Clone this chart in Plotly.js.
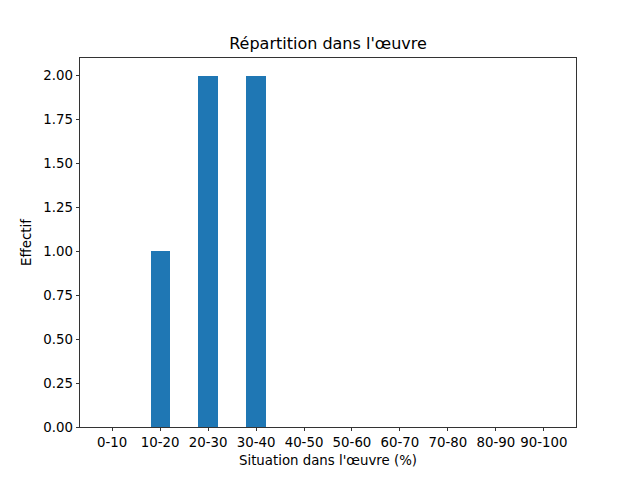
<!DOCTYPE html>
<html>
<head>
<meta charset="utf-8">
<script src="https://cdn.plot.ly/plotly-3.0.1.min.js"></script>
<style>body{margin:0;padding:0;} #chart{width:640px;height:480px;}</style>
</head>
<body>
<div id="chart"></div>
<script>
const categories = ["0-10","10-20","20-30","30-40","40-50","50-60","60-70","70-80","80-90","90-100"];
const counts = [0,1,2,2,0,0,0,0,0,0];
const yTicks = [0,0.25,0.5,0.75,1.0,1.25,1.5,1.75,2.0];

const font = {family: "DejaVu Sans", size: 13.33, color: "#000"};
const trace = {
  type: "bar",
  x: categories.map((c,i)=>i),
  y: counts,
  width: 0.4,
  marker: {color: "#1f77b4", line: {width: 0}},
  hoverinfo: "skip"
};
const layout = {
  width: 640, height: 480,
  margin: {l: 80, r: 64, t: 58, b: 53},
  paper_bgcolor: "#fff", plot_bgcolor: "#fff",
  font: font,
  showlegend: false,
  title: {text: "Répartition dans l'œuvre", font: {family: "DejaVu Sans", size: 16, color: "#000"},
          x: 0.5, xref: "paper", y: 1 - 43/480, yref: "container", yanchor: "middle"},
  xaxis: {
    range: [-0.67, 9.67],
    tickmode: "array", tickvals: categories.map((c,i)=>i), ticktext: categories,
    ticks: "outside", ticklen: 3.5, tickwidth: 0.8, tickcolor: "#000",
    showline: true, mirror: true, linecolor: "#000", linewidth: 0.8,
    showgrid: false, zeroline: false,
    tickfont: font,
    title: {text: "Situation dans l'œuvre (%)", font: font, standoff: 6}
  },
  yaxis: {
    range: [0, 2.1],
    tickmode: "array", tickvals: yTicks, ticktext: yTicks.map(v=>v.toFixed(2)),
    ticks: "outside", ticklen: 3.5, tickwidth: 0.8, tickcolor: "#000",
    showline: true, mirror: true, linecolor: "#000", linewidth: 0.8,
    showgrid: false, zeroline: false,
    tickfont: font,
    title: {text: "Effectif", font: font, standoff: 8}
  },
  bargap: 0
};
Plotly.newPlot("chart", [trace], layout, {staticPlot: true, displayModeBar: false});
</script>
</body>
</html>
